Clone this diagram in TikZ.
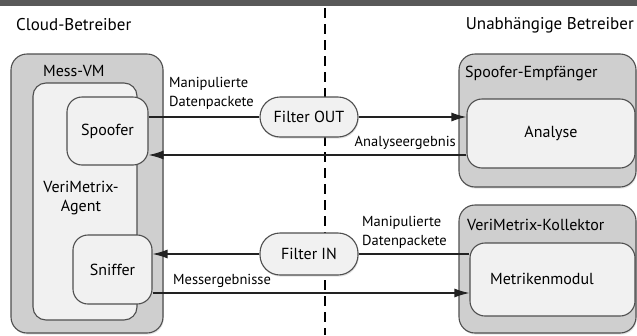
\documentclass[tikz,border=0pt]{standalone}
\usepackage{fontspec}
\setmainfont{PT Sans}
\usetikzlibrary{arrows.meta,calc,shadows}

\definecolor{bannergray}{HTML}{595959}
\definecolor{outerfill}{HTML}{CFCFCF}
\definecolor{innerfill}{HTML}{F1F1F1}
\definecolor{edgegray}{HTML}{4F4F4F}
\definecolor{linegray}{HTML}{222222}

\tikzset{
  softshadow/.style={drop shadow={opacity=0.22, shadow xshift=0.8pt, shadow yshift=-1.6pt}},
  container/.style={draw=edgegray, line width=1.1pt, fill=outerfill,
    rounded corners=16pt, inner sep=0pt, softshadow},
  agentbox/.style={draw=edgegray, line width=1.1pt, fill=innerfill,
    rounded corners=13pt, inner sep=0pt},
  modbox/.style={draw=edgegray, line width=1.1pt, fill=innerfill,
    rounded corners=15pt, inner sep=0pt, font=\fontsize{16}{19}\selectfont},
  filterbox/.style={draw=edgegray, line width=1.1pt, fill=innerfill,
    rounded corners=20pt, inner sep=0pt, minimum width=98pt, minimum height=40pt,
    font=\fontsize{16}{19}\selectfont, softshadow},
  heading/.style={font=\fontsize{17}{20}\selectfont, inner sep=0pt},
  boxtitle/.style={font=\fontsize{16}{19}\selectfont, inner sep=0pt, anchor=west},
  flowlabel/.style={font=\fontsize{14.5}{19}\selectfont, inner sep=0pt, align=left},
  flow/.style={draw=linegray, line width=1.3pt},
  arr/.style={flow, -{Latex[length=15pt,width=9pt]}},
}

\begin{document}
\begin{tikzpicture}[x=1pt, y=-1pt]
\useasboundingbox (0,0) rectangle (637,335);

% title strip along the top edge
\fill[bannergray] (0,0) rectangle (637,6);

% operator headings and the border between them
\node[heading, anchor=west] (cloudop) at (16,25) {Cloud-Betreiber};
\node[heading, anchor=east] (indop) at (634,25) {Unabhängige Betreiber};
\coordinate (divtop) at (325,8);
\coordinate (divbot) at (325,335);
\draw[line width=1.2pt, dash pattern=on 10pt off 6pt] (divtop) -- (divbot);

% cloud side: measuring VM with agent, spoofer and sniffer
\node[container, minimum width=152pt, minimum height=279pt] (messvm) at (87,193.5) {};
\node[boxtitle] (messvmtitle) at (43,71) {Mess-VM};
\node[agentbox, minimum width=104pt, minimum height=237pt] (agent) at (85,201.5) {};
\node[flowlabel, align=center, font=\fontsize{16}{19.5}\selectfont] (agenttitle) at (81,198) {VeriMetrix-\\Agent};
\node[modbox, minimum width=81pt, minimum height=68pt] (spoofer) at (107.5,131) {Spoofer};
\node[modbox, minimum width=79pt, minimum height=69pt] (sniffer) at (112.5,269.5) {Sniffer};

% independent side: receiver and collector
\node[container, minimum width=177pt, minimum height=133pt] (spemp) at (547.5,120.5) {};
\node[boxtitle] (spemptitle) at (465,73) {Spoofer-Empfänger};
\node[modbox, minimum width=168pt, minimum height=69pt] (analyse) at (551,133.5) {Analyse};

\node[container, minimum width=177pt, minimum height=128pt] (kollektor) at (547.5,269) {};
\node[boxtitle] (kollektortitle) at (467,225) {VeriMetrix-Kollektor};
\node[modbox, minimum width=165pt, minimum height=73pt] (metrik) at (552.5,279.5) {};
\node[font=\fontsize{16}{19}\selectfont, inner sep=0pt] (metriktext) at (542,279) {Metrikenmodul};

% filters on the border
\node[filterbox] (filterout) at (309,117) {Filter OUT};
\node[filterbox, minimum height=42pt] (filterin) at (309,254) {Filter IN};

% spoofed packets out, analysis result back
\draw[flow] (spoofer.east |- filterout) -- (filterout.west);
\draw[arr] (filterout.east) -- (analyse.west |- filterout);
\coordinate (resstart) at ([yshift=-21.5pt]analyse.west);
\draw[arr] (resstart) -- (spoofer.east |- resstart);
\node[flowlabel, anchor=west] (lblout) at (169,93) {Manipulierte\\Datenpackete};
\node[flowlabel, anchor=east] (lblres) at (456,143) {Analyseergebnis};

% spoofed packets in, measurements out
\draw[flow] (metrik.west |- filterin) -- (filterin.east);
\draw[arr] (filterin.west) -- (sniffer.east |- filterin);
\coordinate (messstart) at ([yshift=-23.5pt]sniffer.east);
\draw[arr] (messstart) -- (metrik.west |- messstart);
\node[flowlabel, anchor=west] (lblin) at (362,232) {Manipulierte\\Datenpackete};
\node[flowlabel, anchor=west] (lblmess) at (173,281) {Messergebnisse};
\end{tikzpicture}
\end{document}
